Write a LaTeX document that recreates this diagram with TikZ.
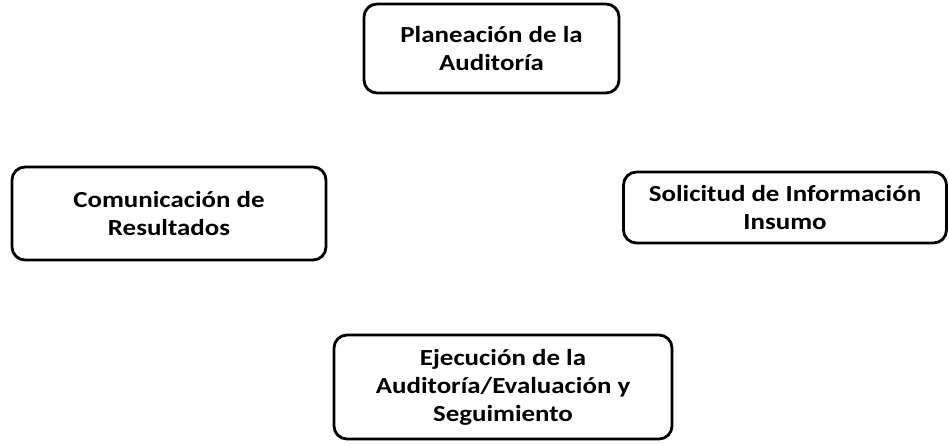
\documentclass[tikz,border=0pt]{standalone}
\usepackage{fontspec}
\setmainfont{Carlito}[FakeStretch=1.17]
\begin{document}
\begin{tikzpicture}[x=1pt,y=-1pt,
  box/.style={draw=black, line width=2.8pt, rounded corners=13pt, fill=white,
    align=center, font=\bfseries\fontsize{23}{28}\selectfont, inner sep=0pt}]
\useasboundingbox (0,0) rectangle (949,444);
\node[box, minimum width=255pt, minimum height=89pt] (plan) at (491.5,48.5) {Planeación de la\\Auditoría};
\node[box, minimum width=314pt, minimum height=93pt] (com) at (169,213.5) {Comunicación de\\Resultados};
\node[box, minimum width=323pt, minimum height=71pt] (sol) at (785,207.5) {Solicitud de Información\\Insumo};
\node[box, minimum width=338pt, minimum height=104pt] (eje) at (503,387) {Ejecución de la\\Auditoría/Evaluación y\\Seguimiento};
\end{tikzpicture}
\end{document}
